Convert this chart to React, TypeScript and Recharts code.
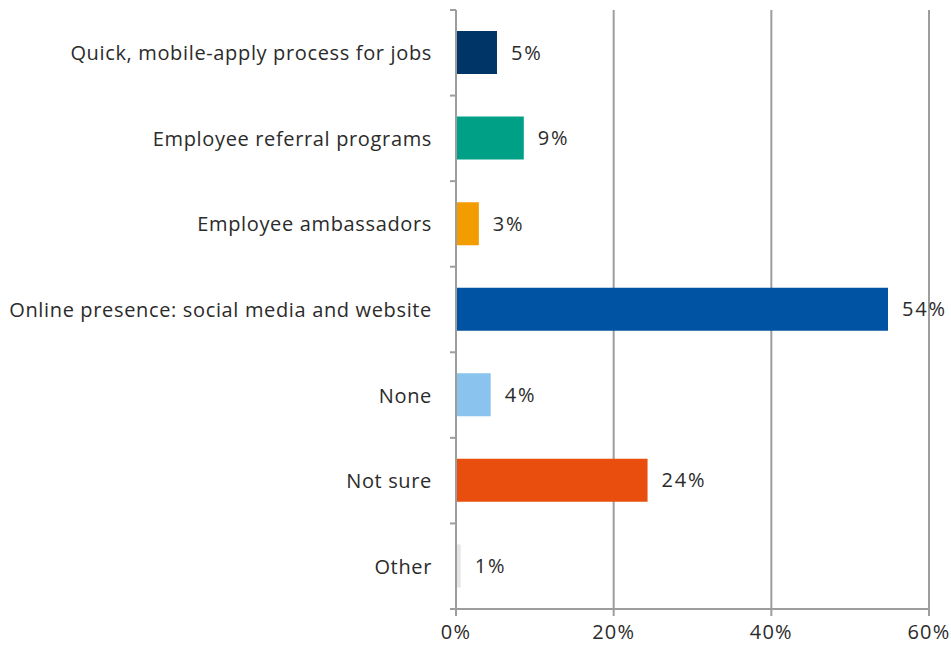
import React from "react";
import { BarChart, Bar, XAxis, YAxis, CartesianGrid, Cell, LabelList } from "recharts";

const categories = [
  "Quick, mobile-apply process for jobs",
  "Employee referral programs",
  "Employee ambassadors",
  "Online presence: social media and website",
  "None",
  "Not sure",
  "Other",
];
const values = [5.2, 8.6, 2.9, 54.8, 4.4, 24.3, 0.6];
const valueLabels = ["5%", "9%", "3%", "54%", "4%", "24%", "1%"];
const colors = ["#003567", "#00a087", "#f39c00", "#0052a3", "#8ac4ee", "#e94e0e", "#e6e6e6"];
const xTicks = [0, 20, 40, 60];

const data = categories.map((c, i) => ({ name: c, value: values[i], label: valueLabels[i] }));

const FONT = "'Open Sans', 'Noto Sans', sans-serif";
const AXIS = "#9d9d9d";
const TOP = 10;
const PLOT_H = 599;
const BAND = PLOT_H / categories.length;

const CatTick = (props: any) => {
  const { x, y, payload, index } = props;
  const last = index === categories.length - 1;
  return (
    <g>
      <line x1={x} x2={x + 6} y1={y - BAND / 2} y2={y - BAND / 2} stroke={AXIS} strokeWidth={2} />
      {last && (
        <line x1={x} x2={x + 6} y1={y + BAND / 2} y2={y + BAND / 2} stroke={AXIS} strokeWidth={2} />
      )}
      <text
        x={x - 18}
        y={y}
        textAnchor="end"
        dominantBaseline="central"
        fill="#2b2b2b"
        fontSize={20}
        letterSpacing={0.65}
        fontFamily={FONT}
      >
        {payload.value}
      </text>
    </g>
  );
};

export default function App() {
  return (
    <div style={{ position: "absolute", left: 0, top: 0, width: 951, height: 645, background: "#fff" }}>
      <BarChart
        width={951}
        height={645}
        data={data}
        layout="vertical"
        margin={{ top: TOP, right: 22, bottom: 0, left: 0 }}
        barSize={43}
      >
        <CartesianGrid horizontal={false} vertical={true} stroke={AXIS} strokeWidth={2} />
        <XAxis
          type="number"
          domain={[0, 60]}
          ticks={xTicks}
          tickFormatter={(v: number) => `${v}%`}
          axisLine={{ stroke: AXIS, strokeWidth: 2 }}
          tickLine={{ stroke: AXIS, strokeWidth: 2 }}
          tickSize={7}
          tickMargin={9}
          tick={{ fill: "#2b2b2b", fontSize: 20, fontFamily: FONT, letterSpacing: 1.2 }}
          height={36}
          interval={0}
        />
        <YAxis
          type="category"
          dataKey="name"
          width={456}
          axisLine={{ stroke: AXIS, strokeWidth: 2 }}
          tickLine={false}
          tickMargin={0}
          tick={<CatTick />}
          interval={0}
        />
        <Bar dataKey="value" isAnimationActive={false}>
          {data.map((d, i) => (
            <Cell key={d.name} fill={colors[i]} />
          ))}
          <LabelList
            dataKey="label"
            position="right"
            offset={14}
            fill="#2b2b2b"
            fontSize={20}
            letterSpacing={1.8}
            fontFamily={FONT}
          />
        </Bar>
      </BarChart>
    </div>
  );
}
